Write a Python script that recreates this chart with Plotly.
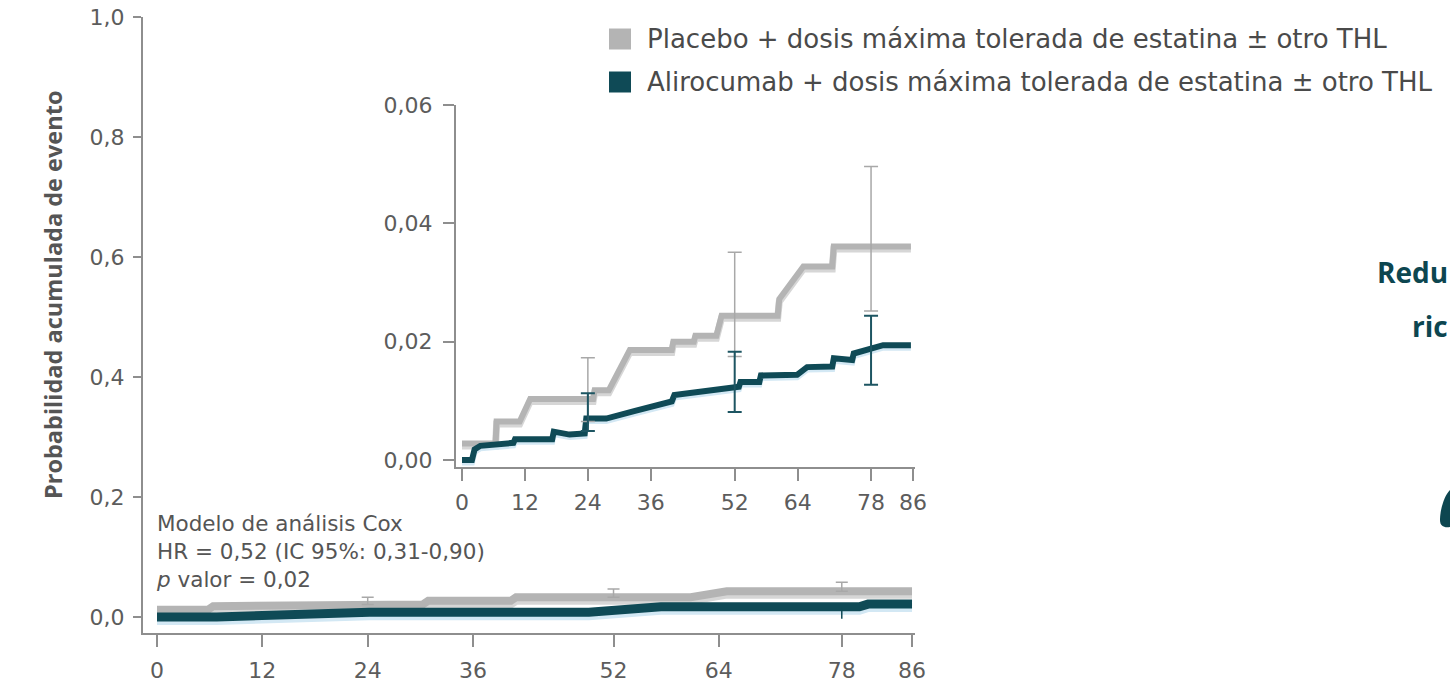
import plotly.graph_objects as go

# ---- Kaplan-Meier style cumulative incidence (inset, zoomed scale) ----
inset_t_placebo = [0, 6.4, 6.6, 11, 13, 25, 25.3, 28, 32, 40, 40.3, 44.2, 44.5,
                   48.5, 49.5, 60.2, 60.5, 65.1, 70.6, 70.9, 85.6]
inset_p_placebo = [0.0028, 0.0028, 0.0065, 0.0065, 0.0103, 0.0103, 0.0118, 0.0118,
                   0.0186, 0.0186, 0.0200, 0.0200, 0.0210, 0.0210, 0.0244, 0.0244,
                   0.0272, 0.0327, 0.0327, 0.0361, 0.0361]

inset_t_aliro = [0, 1.9, 2.4, 3.5, 9.8, 10.1, 17.2, 17.5, 20.5, 23.4, 23.7, 27.5,
                 33, 40, 40.5, 46, 51.7, 52.8, 53.1, 56.7, 57.0, 63.9, 65.8, 70.6,
                 70.9, 74.4, 74.7, 80.3, 85.6]
inset_p_aliro = [0.0, 0.0, 0.0018, 0.0024, 0.0029, 0.0035, 0.0035, 0.0048, 0.0043,
                 0.0045, 0.0070, 0.0070, 0.0083, 0.0099, 0.0110, 0.0117, 0.0124,
                 0.0124, 0.0132, 0.0132, 0.0143, 0.0144, 0.0157, 0.0158, 0.0172,
                 0.0169, 0.0180, 0.0194, 0.0194]

# 95% confidence intervals at selected weeks (inset)
ci_weeks = [24, 52, 78]
ci_placebo_mid = [0.0118, 0.0244, 0.0361]
ci_placebo_low = [0.0065, 0.0175, 0.0252]
ci_placebo_high = [0.0173, 0.0351, 0.0496]
ci_aliro_mid = [0.0070, 0.0124, 0.0188]
ci_aliro_low = [0.0049, 0.0081, 0.0127]
ci_aliro_high = [0.0113, 0.0183, 0.0244]

# ---- Same curves on the full 0-1 probability scale ----
main_t_placebo = [0, 5.8, 6.4, 12.0, 12.6, 30.3, 30.9, 40.3, 40.9, 60.8, 64.9, 86]
main_p_placebo = [0.012, 0.012, 0.018, 0.018, 0.021, 0.021, 0.027, 0.027, 0.033,
                  0.033, 0.043, 0.043]
main_t_aliro = [0, 6.8, 24.2, 49.2, 57.4, 80.0, 81.0, 86]
main_p_aliro = [0.0, 0.0, 0.008, 0.008, 0.017, 0.017, 0.0215, 0.0215]

main_ci_weeks = [24, 52, 78]
main_ci_placebo_mid = [0.021, 0.033, 0.043]
main_ci_placebo_high = [0.033, 0.0467, 0.058]
main_ci_aliro_week = [78]
main_ci_aliro_mid = [0.017]
main_ci_aliro_low = [-0.003]

x_ticks = [0, 12, 24, 36, 52, 64, 78, 86]

GREY = "#b4b4b4"
GREY_SHADOW = "#d6d6d6"
TEAL = "#0f4a56"
TEAL_GLOW = "#d3e8f4"
AXIS = "#8e8e8e"
TXT = "#555555"

W, H = 1450, 684

# axis geometry (pixels)
main_x_px = (143, 915)
main_y_px = (17, 633)
inset_x_px = (456, 915)
inset_y_px = (105, 467)
main_xrange = [-1.595, 86.34]
main_yrange = [-0.0267, 1.0]
inset_xrange = [-1.144, 86.38]
inset_yrange = [-0.00118, 0.06]


def dom_x(px):
    return [px[0] / W, px[1] / W]


def dom_y(px):
    return [(H - px[1]) / H, (H - px[0]) / H]


def shift(vals, yrange, ypx, pixels):
    per_px = (yrange[1] - yrange[0]) / (ypx[1] - ypx[0])
    return [v - pixels * per_px for v in vals]


fig = go.Figure()

# main panel curves
fig.add_trace(go.Scatter(x=main_t_placebo, y=shift(main_p_placebo, main_yrange, main_y_px, 3),
                         mode="lines", line=dict(color=GREY_SHADOW, width=9),
                         xaxis="x", yaxis="y", hoverinfo="skip"))
fig.add_trace(go.Scatter(x=main_t_placebo, y=main_p_placebo, mode="lines",
                         line=dict(color=GREY, width=8), xaxis="x", yaxis="y"))
fig.add_trace(go.Scatter(x=main_t_aliro, y=shift(main_p_aliro, main_yrange, main_y_px, 3),
                         mode="lines", line=dict(color=TEAL_GLOW, width=10),
                         xaxis="x", yaxis="y", hoverinfo="skip"))
fig.add_trace(go.Scatter(x=main_t_aliro, y=main_p_aliro, mode="lines",
                         line=dict(color=TEAL, width=9), xaxis="x", yaxis="y"))
fig.add_trace(go.Scatter(
    x=main_ci_weeks, y=main_ci_placebo_mid, mode="markers",
    marker=dict(size=1, color="rgba(0,0,0,0)"),
    error_y=dict(type="data", symmetric=False,
                 array=[h - m for h, m in zip(main_ci_placebo_high, main_ci_placebo_mid)],
                 arrayminus=[0] * len(main_ci_weeks),
                 color="#a8a8a8", thickness=1.5, width=6),
    xaxis="x", yaxis="y"))
fig.add_trace(go.Scatter(
    x=main_ci_aliro_week, y=main_ci_aliro_mid, mode="markers",
    marker=dict(size=1, color="rgba(0,0,0,0)"),
    error_y=dict(type="data", symmetric=False, array=[0],
                 arrayminus=[m - l for m, l in zip(main_ci_aliro_mid, main_ci_aliro_low)],
                 color=TEAL, thickness=1.5, width=0),
    xaxis="x", yaxis="y"))

# inset curves
fig.add_trace(go.Scatter(x=inset_t_placebo, y=shift(inset_p_placebo, inset_yrange, inset_y_px, 2.5),
                         mode="lines", line=dict(color=GREY_SHADOW, width=7),
                         xaxis="x2", yaxis="y2", hoverinfo="skip"))
fig.add_trace(go.Scatter(x=inset_t_placebo, y=inset_p_placebo, mode="lines",
                         line=dict(color=GREY, width=6), xaxis="x2", yaxis="y2"))
fig.add_trace(go.Scatter(x=inset_t_aliro, y=shift(inset_p_aliro, inset_yrange, inset_y_px, 2.5),
                         mode="lines", line=dict(color=TEAL_GLOW, width=6),
                         xaxis="x2", yaxis="y2", hoverinfo="skip"))
fig.add_trace(go.Scatter(x=inset_t_aliro, y=inset_p_aliro, mode="lines",
                         line=dict(color=TEAL, width=6), xaxis="x2", yaxis="y2"))
fig.add_trace(go.Scatter(
    x=ci_weeks, y=ci_placebo_mid, mode="markers",
    marker=dict(size=1, color="rgba(0,0,0,0)"),
    error_y=dict(type="data", symmetric=False,
                 array=[h - m for h, m in zip(ci_placebo_high, ci_placebo_mid)],
                 arrayminus=[m - l for m, l in zip(ci_placebo_mid, ci_placebo_low)],
                 color="#a8a8a8", thickness=1.5, width=7),
    xaxis="x2", yaxis="y2"))
fig.add_trace(go.Scatter(
    x=ci_weeks, y=ci_aliro_mid, mode="markers",
    marker=dict(size=1, color="rgba(0,0,0,0)"),
    error_y=dict(type="data", symmetric=False,
                 array=[h - m for h, m in zip(ci_aliro_high, ci_aliro_mid)],
                 arrayminus=[m - l for m, l in zip(ci_aliro_mid, ci_aliro_low)],
                 color="#1d5562", thickness=2, width=7),
    xaxis="x2", yaxis="y2"))

tick_font = dict(family="DejaVu Sans", size=22, color="#5c5c5c")
axis_common = dict(showline=True, linecolor=AXIS, linewidth=2, showgrid=False,
                   zeroline=False, ticks="outside", tickcolor=AXIS, tickwidth=2,
                   tickfont=tick_font, fixedrange=True, automargin=False)

fig.update_layout(
    width=W, height=H,
    margin=dict(l=0, r=0, t=0, b=0, pad=0, autoexpand=False),
    paper_bgcolor="white", plot_bgcolor="white",
    showlegend=False,
    separators=", ",
    xaxis=dict(domain=dom_x(main_x_px), range=main_xrange, tickvals=x_ticks,
               ticklen=12, ticklabelstandoff=5, anchor="y", **axis_common),
    yaxis=dict(domain=dom_y(main_y_px), range=main_yrange,
               tickvals=[0, 0.2, 0.4, 0.6, 0.8, 1.0], tickformat=".1f",
               ticklen=8, ticklabelstandoff=4, anchor="x", **axis_common),
    xaxis2=dict(domain=dom_x(inset_x_px), range=inset_xrange, tickvals=x_ticks,
                ticklen=12, ticklabelstandoff=3, anchor="y2", **axis_common),
    yaxis2=dict(domain=dom_y(inset_y_px), range=inset_yrange,
                tickvals=[0, 0.02, 0.04, 0.06], tickformat=".2f",
                ticklen=11, ticklabelstandoff=6, anchor="x2", **axis_common),
)

# y-axis title
fig.add_annotation(text="<b>Probabilidad acumulada de evento</b>", textangle=-90,
                   xref="paper", yref="paper", x=35 / W, y=(H - 295) / H,
                   showarrow=False, font=dict(family="Open Sans", size=23.5, color=TXT))

# Cox model summary
fig.add_annotation(text="Modelo de análisis Cox<br>HR = 0,52 (IC 95%: 0,31-0,90)<br><i>p</i> valor = 0,02",
                   xref="paper", yref="paper", x=154 / W, y=(H - 509) / H,
                   xanchor="left", yanchor="top", align="left", showarrow=False,
                   font=dict(family="DejaVu Sans", size=21.5, color=TXT))

# legend
legend_items = [("Placebo + dosis máxima tolerada de estatina ± otro THL", GREY, 39),
                ("Alirocumab + dosis máxima tolerada de estatina ± otro THL", TEAL, 82)]
for label, color, yc in legend_items:
    fig.add_shape(type="rect", xref="paper", yref="paper",
                  x0=609 / W, x1=631 / W, y0=(H - yc - 10.5) / H, y1=(H - yc + 10.5) / H,
                  fillcolor=color, line=dict(width=0))
    fig.add_annotation(text=label, xref="paper", yref="paper", x=645 / W, y=(H - yc) / H,
                       xanchor="left", yanchor="middle", showarrow=False,
                       font=dict(family="DejaVu Sans", size=26, color="#4a4a4a"))

# headline fragments at the right edge
fig.add_annotation(text="<b>Redu</b>", xref="paper", yref="paper", x=1.0,
                   y=(H - 272) / H, xanchor="right", yanchor="middle", showarrow=False,
                   font=dict(family="Open Sans", size=28, color="#0d4650"))
fig.add_annotation(text="<b>ric</b>", xref="paper", yref="paper", x=1.0,
                   y=(H - 326) / H, xanchor="right", yanchor="middle", showarrow=False,
                   font=dict(family="Open Sans", size=28, color="#0d4650"))
fig.add_shape(type="path", xref="paper", yref="paper",
              path=f"M {1450 / W},{(H - 490) / H} C {1444 / W},{(H - 496) / H} {1440 / W},{(H - 510) / H} {1440 / W},{(H - 520) / H} "
                   f"C {1440 / W},{(H - 526) / H} {1444 / W},{(H - 528) / H} {1450 / W},{(H - 527) / H} Z",
              fillcolor="#0d4650", line=dict(width=0))

fig.write_html("out.html")
